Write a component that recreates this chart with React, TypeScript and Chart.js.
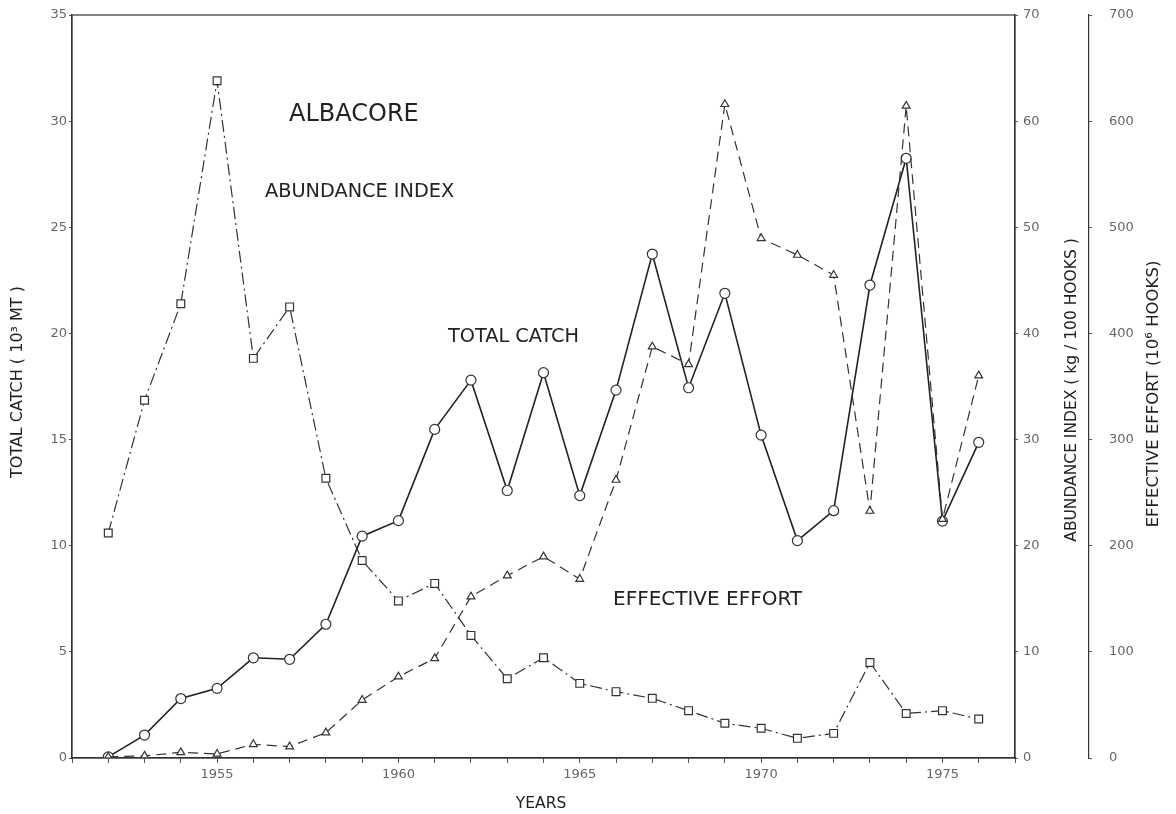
import React, { useEffect, useRef } from 'react';
import { Chart, registerables } from 'chart.js';

Chart.register(...registerables);

// ---- Data ----
const years = [
  1952, 1953, 1954, 1955, 1956, 1957, 1958, 1959, 1960, 1961, 1962, 1963, 1964,
  1965, 1966, 1967, 1968, 1969, 1970, 1971, 1972, 1973, 1974, 1975, 1976,
];

// Total catch, 10^3 MT (left axis)
const totalCatch = [
  0.05, 1.08, 2.8, 3.28, 4.72, 4.65, 6.3, 10.45, 11.18, 15.48, 17.8, 12.6, 18.15,
  12.36, 17.33, 23.74, 17.44, 21.89, 15.21, 10.24, 11.65, 22.28, 28.25, 11.16, 14.87,
];

// Abundance index, kg / 100 hooks (first right axis)
const abundanceIndex = [
  21.2, 33.7, 42.8, 63.8, 37.65, 42.5, 26.35, 18.6, 14.8, 16.45, 11.55, 7.47, 9.45,
  7.03, 6.25, 5.62, 4.46, 3.27, 2.8, 1.85, 2.32, 9.0, 4.2, 4.46, 3.67,
];

// Effective effort, 10^6 hooks (second right axis)
const effectiveEffort = [
  1, 2, 5.3, 3.8, 12.9, 10.7, 23.9, 54.6, 76.6, 93.9, 152, 171.8, 189.7,
  168.6, 261.9, 387.5, 370.9, 615.9, 489.6, 473.9, 455, 232.7, 614.3, 225, 360.2,
];

const catchAxis = { min: 0, max: 35, step: 5 };
const abundanceAxis = { min: 0, max: 70, step: 10 };
const effortAxis = { min: 0, max: 700, step: 100 };
const yearAxis = { min: 1951, max: 1977, labelEvery: 5 };

const FONT = '"DejaVu Sans", "Liberation Sans", sans-serif';
const INK = '#222222';
const TICK_INK = '#666666';

const textPlugin = {
  id: 'figureText',
  afterDraw(chart: any) {
    const { ctx, chartArea } = chart;
    ctx.save();
    // frame
    ctx.strokeStyle = '#333';
    ctx.lineWidth = 1.2;
    ctx.strokeRect(chartArea.left, chartArea.top, chartArea.right - chartArea.left, chartArea.bottom - chartArea.top);

    ctx.fillStyle = INK;
    ctx.textBaseline = 'alphabetic';
    ctx.textAlign = 'left';
    ctx.font = `24px ${FONT}`;
    ctx.fillText('ALBACORE', 289, 121);
    ctx.font = `19.3px ${FONT}`;
    ctx.fillText('ABUNDANCE INDEX', 265, 197);
    ctx.fillText('TOTAL CATCH', 448, 342);
    ctx.font = `20px ${FONT}`;
    ctx.fillText('EFFECTIVE EFFORT', 613, 605);

    ctx.textAlign = 'center';
    ctx.font = `15.5px ${FONT}`;
    ctx.fillText('YEARS', 541, 808);

    const vText = (t: string, x: number, y: number, size: number) => {
      ctx.save();
      ctx.translate(x, y);
      ctx.rotate(-Math.PI / 2);
      ctx.textAlign = 'center';
      ctx.textBaseline = 'middle';
      ctx.font = `${size}px ${FONT}`;
      ctx.fillText(t, 0, 0);
      ctx.restore();
    };
    vText('TOTAL CATCH ( 10³ MT )', 18, 382, 16);
    vText('ABUNDANCE INDEX ( kg / 100 HOOKS )', 1072, 390, 15.5);
    vText('EFFECTIVE EFFORT (10⁶ HOOKS)', 1154, 394, 16.5);
    ctx.restore();
  },
};

export default function App() {
  const canvasRef = useRef<HTMLCanvasElement | null>(null);

  useEffect(() => {
    document.body.style.margin = '0';
    const canvas = canvasRef.current;
    if (!canvas) return;

    const toPoints = (vals: number[]) => years.map((yr, i) => ({ x: yr, y: vals[i] }));
    const tickFont = { family: FONT, size: 13 };
    const fitY = (w: number) => (s: any) => {
      s.width = w;
      s.paddingTop = 7;
      s.paddingBottom = 7;
    };

    const chart = new Chart(canvas, {
      type: 'line',
      data: {
        datasets: [
          {
            label: 'Effective effort',
            data: toPoints(effectiveEffort),
            yAxisID: 'y2',
            borderColor: '#333',
            borderWidth: 1.2,
            borderDash: [10, 6],
            pointStyle: 'triangle',
            pointRadius: 4.5,
            pointBackgroundColor: '#fff',
            pointBorderColor: '#333',
            pointBorderWidth: 1.2,
            tension: 0,
          },
          {
            label: 'Abundance index',
            data: toPoints(abundanceIndex),
            yAxisID: 'y1',
            borderColor: '#333',
            borderWidth: 1.2,
            borderDash: [12, 4, 2, 4],
            pointStyle: 'rect',
            pointRadius: 5.5,
            pointBackgroundColor: '#fff',
            pointBorderColor: '#333',
            pointBorderWidth: 1.2,
            tension: 0,
          },
          {
            label: 'Total catch',
            data: toPoints(totalCatch),
            yAxisID: 'y',
            borderColor: '#222',
            borderWidth: 1.6,
            pointStyle: 'circle',
            pointRadius: 5,
            pointBackgroundColor: '#fff',
            pointBorderColor: '#333',
            pointBorderWidth: 1.2,
            tension: 0,
          },
        ],
      },
      options: {
        responsive: false,
        animation: false,
        devicePixelRatio: 1,
        layout: { padding: { top: 15, left: 0, right: 0, bottom: 0 } },
        plugins: { legend: { display: false }, tooltip: { enabled: false } },
        scales: {
          x: {
            type: 'linear',
            position: 'bottom',
            min: yearAxis.min,
            max: yearAxis.max,
            afterFit: (s: any) => { s.height = 56; s.paddingLeft = 0; s.paddingRight = 0; },
            ticks: {
              stepSize: 1,
              autoSkip: false,
              maxRotation: 0,
              padding: 4,
              color: TICK_INK,
              font: tickFont,
              callback: (v: any) => (Number(v) % yearAxis.labelEvery === 0 ? String(v) : ''),
            },
            grid: { drawOnChartArea: false, drawTicks: true, tickLength: 5, color: '#555' },
            border: { color: '#333', width: 1.2 },
          },
          y: {
            type: 'linear',
            position: 'left',
            min: catchAxis.min,
            max: catchAxis.max,
            afterFit: fitY(72),
            ticks: { stepSize: catchAxis.step, padding: 2, color: TICK_INK, font: tickFont },
            grid: { drawOnChartArea: false, drawTicks: true, tickLength: 3, color: '#555' },
            border: { color: '#333', width: 1.2 },
          },
          y1: {
            type: 'linear',
            position: 'right',
            min: abundanceAxis.min,
            max: abundanceAxis.max,
            afterFit: fitY(74),
            ticks: { stepSize: abundanceAxis.step, padding: 5, color: TICK_INK, font: tickFont },
            grid: { drawOnChartArea: false, drawTicks: true, tickLength: 3, color: '#555' },
            border: { color: '#333', width: 1.2 },
          },
          y2: {
            type: 'linear',
            position: 'right',
            min: effortAxis.min,
            max: effortAxis.max,
            afterFit: fitY(87),
            ticks: { stepSize: effortAxis.step, padding: 17, color: TICK_INK, font: tickFont },
            grid: { drawOnChartArea: false, drawTicks: true, tickLength: 3, color: '#555' },
            border: { color: '#333', width: 1.2 },
          },
        },
      } as any,
      plugins: [textPlugin],
    });

    return () => chart.destroy();
  }, []);

  return (
    <div style={{ position: 'absolute', left: 0, top: 0, width: 1176, height: 814, background: '#fff' }}>
      <canvas ref={canvasRef} width={1176} height={814} style={{ display: 'block', width: 1176, height: 814 }} />
    </div>
  );
}
